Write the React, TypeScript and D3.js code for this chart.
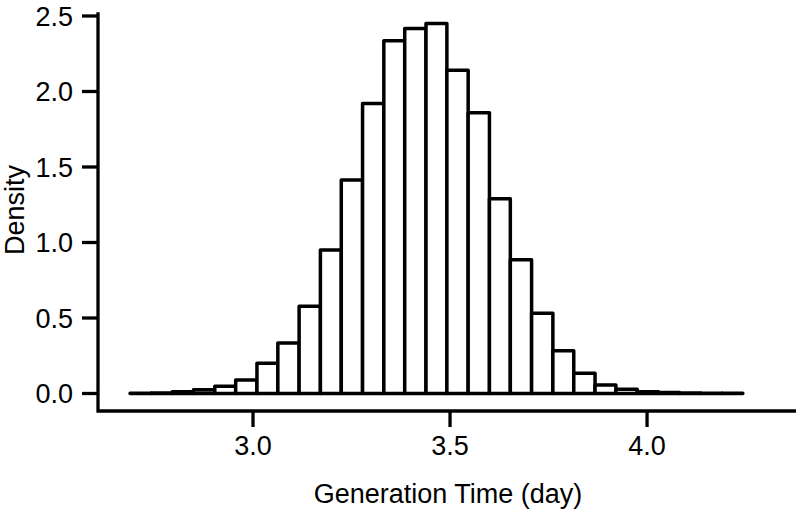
import * as d3 from 'd3';

// histogram bin edges (day) and density per bin
const binEdges = [
  2.688, 2.742, 2.795, 2.849, 2.903, 2.956, 3.010, 3.063, 3.117, 3.171,
  3.224, 3.278, 3.332, 3.385, 3.439, 3.492, 3.546, 3.600, 3.653, 3.707,
  3.761, 3.814, 3.868, 3.921, 3.975, 4.029, 4.082, 4.136, 4.190, 4.243,
];
const density = [
  0.001, 0.003, 0.012, 0.025, 0.048, 0.09, 0.2, 0.334, 0.577, 0.95,
  1.414, 1.92, 2.336, 2.418, 2.45, 2.14, 1.86, 1.29, 0.885, 0.531,
  0.283, 0.134, 0.056, 0.028, 0.012, 0.006, 0.003, 0.002, 0.001,
];
const xTicks = [3.0, 3.5, 4.0];
const yTicks = [0, 0.5, 1.0, 1.5, 2.0, 2.5];

const W = 796;
const H = 510;
const left = 98;
const right = 796;
const top = 14;
const bottom = 411;
const font = '"Liberation Sans", Arial, sans-serif';

export default function App() {
  const x = d3.scaleLinear().domain([2.6066, 4.378]).range([left, right]);
  const y = d3.scaleLinear().domain([-0.1159, 2.5132]).range([bottom, top]);

  const bins = density.map((d, i) => ({ x0: binEdges[i], x1: binEdges[i + 1], d }));

  return (
    <div style={{ position: 'absolute', left: 0, top: 0 }}>
      <svg width={W} height={H} style={{ display: 'block', background: '#fff' }} fontFamily={font}>
        {/* bars */}
        <g stroke="#000" strokeWidth={3.5} fill="#fff" strokeLinejoin="round">
          {bins.map((b, i) => (
            <rect
              key={i}
              x={x(b.x0)}
              y={y(b.d)}
              width={x(b.x1) - x(b.x0)}
              height={y(0) - y(b.d)}
            />
          ))}
        </g>

        {/* axes */}
        <g stroke="#000" strokeWidth={3.3} fill="none">
          <path d={`M${left},${top}V${bottom}H${right}`} strokeLinejoin="miter" strokeLinecap="square" />
          {yTicks.map((t) => (
            <line key={t} x1={left - 16} x2={left} y1={y(t)} y2={y(t)} />
          ))}
          {xTicks.map((t) => (
            <line key={t} x1={x(t)} x2={x(t)} y1={bottom} y2={bottom + 16} />
          ))}
        </g>

        <g fontSize={27} fill="#000">
          {yTicks.map((t) => (
            <text key={t} x={73} y={y(t)} dy="0.36em" textAnchor="end">
              {d3.format('.1f')(t)}
            </text>
          ))}
          {xTicks.map((t) => (
            <text key={t} x={x(t)} y={455} textAnchor="middle">
              {d3.format('.1f')(t)}
            </text>
          ))}
          <text x={448} y={503} textAnchor="middle">Generation Time (day)</text>
          <text transform="translate(24,210) rotate(-90)" textAnchor="middle">Density</text>
        </g>
      </svg>
    </div>
  );
}
